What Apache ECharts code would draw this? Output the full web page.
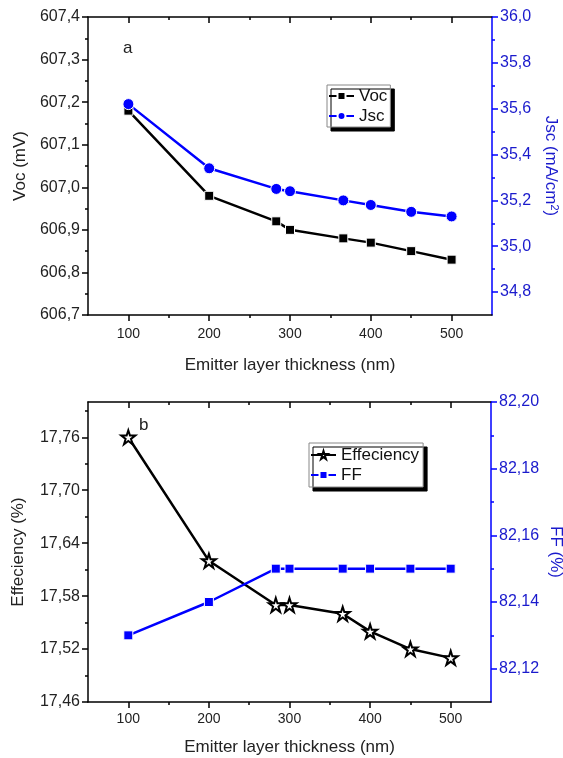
<!DOCTYPE html>
<html>
<head>
<meta charset="utf-8">
<script src="https://cdn.jsdelivr.net/npm/echarts@6/dist/echarts.min.js"></script>
<style>
html,body{margin:0;padding:0;background:#fff;}
#chart{width:563px;height:758px;}
</style>
</head>
<body>
<div id="chart"></div>
<script>
// ---- data ----
const thickness = [100, 200, 283, 300, 366, 400, 450, 500];
const vocValues = [607.18, 606.98, 606.92, 606.90, 606.88, 606.87, 606.85, 606.83];
const jscValues = [35.62, 35.34, 35.25, 35.24, 35.20, 35.18, 35.15, 35.13];
const effValues = [17.76, 17.62, 17.57, 17.57, 17.56, 17.54, 17.52, 17.51];
const ffValues  = [82.13, 82.14, 82.15, 82.15, 82.15, 82.15, 82.15, 82.15];

// ---- ticks ----
const xTicks = [100, 200, 300, 400, 500];
const xMinor = [150, 250, 350, 450];
const vocTicks = [606.7, 606.8, 606.9, 607.0, 607.1, 607.2, 607.3, 607.4];
const vocMinor = [606.75, 606.85, 606.95, 607.05, 607.15, 607.25, 607.35];
const jscTicks = [34.8, 35.0, 35.2, 35.4, 35.6, 35.8, 36.0];
const jscMinor = [34.9, 35.1, 35.3, 35.5, 35.7, 35.9];
const effTicks = [17.46, 17.52, 17.58, 17.64, 17.70, 17.76];
const effMinor = [17.49, 17.55, 17.61, 17.67, 17.73, 17.79];
const ffTicks = [82.12, 82.14, 82.16, 82.18, 82.20];
const ffMinor = [82.13, 82.15, 82.17, 82.19];

const FONT = 'Liberation Sans, Arial, sans-serif';
const BLUE = '#0000ff';
const BLUE_TXT = '#1a1acc';

function pairs(xs, ys) { return xs.map((x, i) => [x, ys[i]]); }
function fmt(d) { return v => Number(v).toFixed(d).replace('.', ','); }

function majorAxis(o) {
  return Object.assign({
    type: 'value', gridIndex: o.grid, position: o.pos, min: o.min, max: o.max,
    nameMoveOverlap: false,
    axisLine: { show: true, onZero: false, lineStyle: { color: o.color, width: 1.5 } },
    axisTick: { show: true, inside: !!o.inside, length: 6, customValues: o.ticks, lineStyle: { color: o.color, width: 1.5 } },
    axisLabel: o.labels ? { show: true, customValues: o.ticks, formatter: fmt(o.dec), color: o.txt, fontSize: o.fs, fontFamily: FONT, margin: o.margin } : { show: false },
    splitLine: { show: false }
  }, o.extra || {});
}
function minorAxis(o) {
  return {
    type: 'value', gridIndex: o.grid, position: o.pos, min: o.min, max: o.max,
    axisLine: { show: false, onZero: false },
    axisTick: { show: true, inside: !!o.inside, length: 3, customValues: o.ticks, lineStyle: { color: o.color, width: 1.5 } },
    axisLabel: { show: false },
    splitLine: { show: false }
  };
}

const nameStyle = (c) => ({ color: c, fontSize: 17, fontFamily: FONT });

const xAxes = [];
const yAxes = [];
[0, 1].forEach(g => {
  xAxes.push(majorAxis({ grid: g, pos: 'bottom', min: 50, max: 550, ticks: xTicks, color: '#000', labels: true, dec: 0, txt: '#222', fs: 14, margin: g === 0 ? 12 : 10,
    extra: { name: 'Emitter layer thickness (nm)', nameLocation: 'middle', nameGap: g === 0 ? 42 : 37, nameTextStyle: nameStyle('#222') } }));
  xAxes.push(minorAxis({ grid: g, pos: 'bottom', min: 50, max: 550, ticks: xMinor, color: '#000' }));
  xAxes.push(majorAxis({ grid: g, pos: 'top', min: 50, max: 550, ticks: xTicks, color: '#000', inside: true, labels: false }));
  xAxes.push(minorAxis({ grid: g, pos: 'top', min: 50, max: 550, ticks: xMinor, color: '#000', inside: true }));
});

// grid 0 y axes
yAxes.push(majorAxis({ grid: 0, pos: 'left', min: 606.7, max: 607.4, ticks: vocTicks, color: '#000', labels: true, dec: 1, txt: '#222', fs: 16, margin: 8,
  extra: { name: 'Voc (mV)', nameLocation: 'middle', nameGap: 59, nameTextStyle: nameStyle('#222') } }));
yAxes.push(minorAxis({ grid: 0, pos: 'left', min: 606.7, max: 607.4, ticks: vocMinor, color: '#000' }));
yAxes.push(majorAxis({ grid: 0, pos: 'right', min: 34.7, max: 36.0, ticks: jscTicks, color: BLUE, labels: true, dec: 1, txt: BLUE_TXT, fs: 16, margin: 8,
  extra: { name: 'Jsc (mA/cm{sup|2})', nameLocation: 'middle', nameGap: 49, nameRotate: -90,
    nameTextStyle: Object.assign(nameStyle(BLUE_TXT), { rich: { sup: { fontSize: 11, color: BLUE_TXT, fontFamily: FONT, verticalAlign: 'top', padding: [0, 0, 8, 0] } } }) } }));
yAxes.push(minorAxis({ grid: 0, pos: 'right', min: 34.7, max: 36.0, ticks: jscMinor, color: BLUE }));
// grid 1 y axes
yAxes.push(majorAxis({ grid: 1, pos: 'left', min: 17.46, max: 17.80, ticks: effTicks, color: '#000', labels: true, dec: 2, txt: '#222', fs: 16, margin: 8,
  extra: { name: 'Effeciency (%)', nameLocation: 'middle', nameGap: 61, nameTextStyle: nameStyle('#222') } }));
yAxes.push(minorAxis({ grid: 1, pos: 'left', min: 17.46, max: 17.80, ticks: effMinor, color: '#000' }));
yAxes.push(majorAxis({ grid: 1, pos: 'right', min: 82.11, max: 82.20, ticks: ffTicks, color: BLUE, labels: true, dec: 2, txt: BLUE_TXT, fs: 16, margin: 8,
  extra: { name: 'FF (%)', nameLocation: 'middle', nameGap: 56, nameRotate: -90, nameTextStyle: nameStyle(BLUE_TXT) } }));
yAxes.push(minorAxis({ grid: 1, pos: 'right', min: 82.11, max: 82.20, ticks: ffMinor, color: BLUE }));

const STAR = 'path://M50,0 L61.8,36.2 L100,36.2 L69.1,58.6 L80.9,95.1 L50,72.7 L19.1,95.1 L30.9,58.6 L0,36.2 L38.2,36.2 Z';

const legendBase = {
  orient: 'vertical', itemGap: 0, itemWidth: 25, itemHeight: 10,
  backgroundColor: '#fff', borderColor: '#888', borderWidth: 1,
  shadowColor: '#000', shadowBlur: 0.5, shadowOffsetX: 4, shadowOffsetY: 4,
  textStyle: { fontSize: 17, fontFamily: FONT, color: '#111', lineHeight: 20 },
  itemStyle: {}
};

const option = {
  animation: false,
  backgroundColor: '#fff',
  grid: [
    { left: 88, right: 71, top: 17, height: 298, outerBoundsMode: 'none', containLabel: false },
    { left: 88, right: 72, top: 402, height: 300, outerBoundsMode: 'none', containLabel: false }
  ],
  xAxis: xAxes,
  yAxis: yAxes,
  legend: [
    Object.assign({}, legendBase, { left: 327, top: 85, padding: [1, 3, 1, 1], itemGap: 0, data: ['Voc', 'Jsc'] }),
    Object.assign({}, legendBase, { left: 309, top: 443, padding: [2, 4, 2, 1], itemGap: 0, data: ['Effeciency', 'FF'] })
  ],
  graphic: [
    { type: 'text', left: 123, top: 40, style: { text: 'a', fontSize: 17, fontFamily: FONT, fill: '#222' } },
    { type: 'text', left: 139, top: 417, style: { text: 'b', fontSize: 17, fontFamily: FONT, fill: '#222' } }
  ],
  series: [
    { name: 'Voc', type: 'line', xAxisIndex: 0, yAxisIndex: 0, data: pairs(thickness, vocValues),
      symbol: 'rect', symbolSize: 9, lineStyle: { color: '#000', width: 2.5 },
      itemStyle: { color: '#000', borderColor: '#fff', borderWidth: 1 } },
    { name: 'Jsc', type: 'line', xAxisIndex: 0, yAxisIndex: 2, data: pairs(thickness, jscValues),
      symbol: 'circle', symbolSize: 11, lineStyle: { color: BLUE, width: 2.5 },
      itemStyle: { color: BLUE, borderColor: '#fff', borderWidth: 1 } },
    { name: 'Effeciency', type: 'line', xAxisIndex: 4, yAxisIndex: 4, data: pairs(thickness, effValues),
      symbol: STAR, symbolSize: 14, lineStyle: { color: '#000', width: 2.5 },
      itemStyle: { color: '#fff', borderColor: '#000', borderWidth: 2 } },
    { name: 'FF', type: 'line', xAxisIndex: 4, yAxisIndex: 6, data: pairs(thickness, ffValues),
      symbol: 'rect', symbolSize: 9, lineStyle: { color: BLUE, width: 2.5 },
      itemStyle: { color: BLUE, borderColor: '#fff', borderWidth: 1 } }
  ]
};

const chart = echarts.init(document.getElementById('chart'), null, { renderer: 'canvas' });
chart.setOption(option);
</script>
</body>
</html>
